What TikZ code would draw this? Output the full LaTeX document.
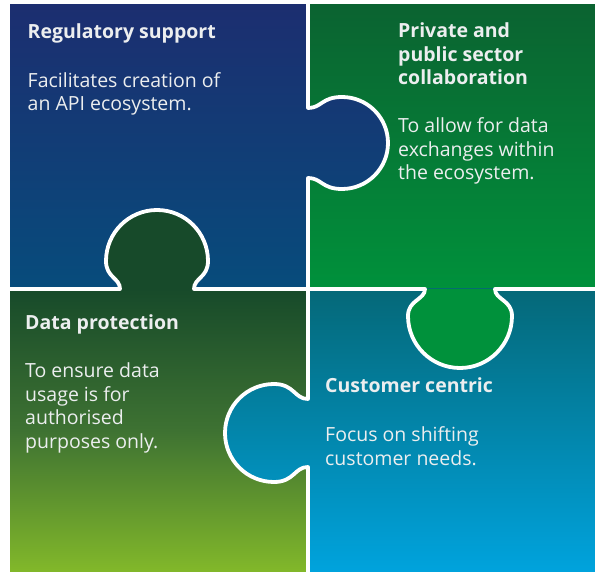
\documentclass[tikz,border=0pt]{standalone}
\usepackage{fontspec}
\setmainfont{Open Sans}
\definecolor{tlTop}{HTML}{1C2E70}
\definecolor{tlBot}{HTML}{074C7C}
\definecolor{trTop}{HTML}{0B6331}
\definecolor{trBot}{HTML}{00913B}
\definecolor{blTop}{HTML}{174A2A}
\definecolor{blMid}{HTML}{3E7232}
\definecolor{blBot}{HTML}{82B82A}
\definecolor{brTop}{HTML}{056878}
\definecolor{brBot}{HTML}{00A3DD}
\definecolor{txt}{HTML}{ECEEEF}
\tikzset{
  head/.style={anchor=base west, align=left, inner sep=0pt, text=txt,
    font=\bfseries\fontsize{19.5}{23.5}\selectfont},
  body/.style={anchor=base west, align=left, inner sep=0pt, text=txt,
    font=\fontsize{19.5}{23.5}\selectfont},
  seam/.style={draw=white, line width=3.8pt, line join=round, line cap=butt}
}
\begin{document}
\begin{tikzpicture}[x=1pt,y=-1pt]
\useasboundingbox (0,0) rectangle (595,572);
\fill[white] (0,0) rectangle (595,572);
% quadrants
\shade[top color=tlTop, bottom color=tlBot] (10,5) rectangle (308,289);
\shade[top color=trTop, bottom color=trBot] (308,5) rectangle (595,289);
\shade[top color=blTop, bottom color=blBot, middle color=blMid] (10,289) rectangle (308,572);
\shade[top color=brTop, bottom color=brBot] (308,289) rectangle (595,572);
% knob A (top-left piece into top-right)
\begin{scope}
\clip (308,108) .. controls (321.6,108) and (321.6,97) .. (342,97)
  .. controls (367.4,97) and (388,117.6) .. (388,143)
  .. controls (388,168.4) and (367.4,189) .. (342,189)
  .. controls (321.6,189) and (321.6,178) .. (308,178) -- cycle;
\shade[top color=tlTop, bottom color=tlBot] (300,5) rectangle (400,289);
\end{scope}
% knob B (bottom-left piece into top-left)
\fill[blTop] (120,289) .. controls (120,277.8) and (106,277.8) .. (106,261)
  .. controls (106,232.8) and (128.8,210) .. (157,210)
  .. controls (185.2,210) and (208,232.8) .. (208,261)
  .. controls (208,277.8) and (194,277.8) .. (194,289) -- cycle;
% knob C (top-right piece into bottom-right)
\fill[trBot] (425,289) .. controls (425,299.8) and (408,299.8) .. (408,316)
  .. controls (408,344.7) and (431.3,368) .. (460,368)
  .. controls (488.7,368) and (512,344.7) .. (512,316)
  .. controls (512,299.8) and (495,299.8) .. (495,289) -- cycle;
% knob D (bottom-right piece into bottom-left)
\begin{scope}
\clip (308,399) .. controls (294.4,399) and (294.4,384) .. (274,384)
  .. controls (246.9,384) and (225,405.9) .. (225,433)
  .. controls (225,460.1) and (246.9,482) .. (274,482)
  .. controls (294.4,482) and (294.4,467) .. (308,467) -- cycle;
\shade[top color=brTop, bottom color=brBot] (200,289) rectangle (320,572);
\end{scope}
% seams
\path[seam] (308,0) -- (308,108) .. controls (321.6,108) and (321.6,97) .. (342,97)
  .. controls (367.4,97) and (388,117.6) .. (388,143)
  .. controls (388,168.4) and (367.4,189) .. (342,189)
  .. controls (321.6,189) and (321.6,178) .. (308,178)
  -- (308,399) .. controls (294.4,399) and (294.4,384) .. (274,384)
  .. controls (246.9,384) and (225,405.9) .. (225,433)
  .. controls (225,460.1) and (246.9,482) .. (274,482)
  .. controls (294.4,482) and (294.4,467) .. (308,467) -- (308,572);
\path[seam] (10,289) -- (120,289) .. controls (120,277.8) and (106,277.8) .. (106,261)
  .. controls (106,232.8) and (128.8,210) .. (157,210)
  .. controls (185.2,210) and (208,232.8) .. (208,261)
  .. controls (208,277.8) and (194,277.8) .. (194,289)
  -- (425,289) .. controls (425,299.8) and (408,299.8) .. (408,316)
  .. controls (408,344.7) and (431.3,368) .. (460,368)
  .. controls (488.7,368) and (512,344.7) .. (512,316)
  .. controls (512,299.8) and (495,299.8) .. (495,289) -- (595,289);
% texts (base anchor = baseline of last line)
\node[head] (h1) at (27.5,38.3) {Regulatory support};
\node[body] (b1) at (27.5,111) {Facilitates creation of\\an API ecosystem.};
\node[head] (h2) at (398,85) {Private and\\public sector\\collaboration};
\node[body] (b2) at (398,180) {To allow for data\\exchanges within\\the ecosystem.};
\node[head] (h3) at (25,330) {Data protection};
\node[body] (b3) at (25,448.3) {To ensure data\\usage is for\\authorised\\purposes only.};
\node[head] (h4) at (325,392.7) {Customer centric};
\node[body] (b4) at (325,465) {Focus on shifting\\customer needs.};
\end{tikzpicture}
\end{document}
